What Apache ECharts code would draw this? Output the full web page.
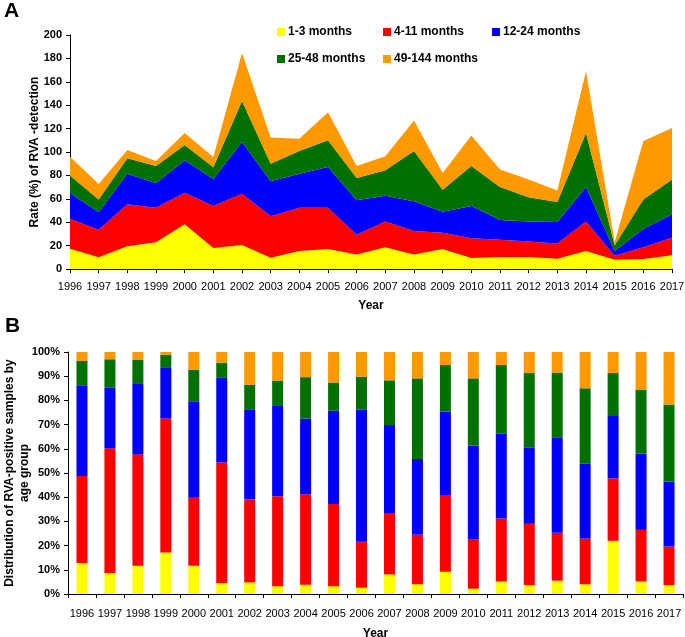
<!DOCTYPE html>
<html>
<head>
<meta charset="utf-8">
<script src="https://cdn.jsdelivr.net/npm/echarts@6/dist/echarts.min.js"></script>
<style>
html,body{margin:0;padding:0;background:#fff;}
#c{width:685px;height:637px;}
</style>
</head>
<body>
<div id="c"></div>
<script>
var years = ['1996','1997','1998','1999','2000','2001','2002','2003','2004','2005','2006','2007','2008','2009','2010','2011','2012','2013','2014','2015','2016','2017'];
var groups = ['1-3 months','4-11 months','12-24 months','25-48 months','49-144 months'];
var colors = ['#FFFF00','#FF0000','#0000FF','#007000','#FF9900'];

// Panel A: rate (%) of RVA detection by age group (stacked)
var rate_1_3    = [17.4,10,19.4,22.8,38.2,18,20.5,9.7,15.4,17,12.5,18.5,12.3,17,9.4,10.3,10.3,8.8,15.4,8,8.5,11.7];
var rate_4_11   = [25.6,23.6,35.9,29.6,27,35.8,43.9,35.3,37,35.4,16.8,22.2,20.2,14,16.8,14.7,13.1,12.9,25.1,3.4,10,15.1];
var rate_12_24  = [22,14.8,26.2,20.8,27.7,23.2,44.1,30,29.1,34.8,29.4,22,25.3,18,27.6,16.9,17.1,18.5,29.5,4,15.7,19.9];
var rate_25_48  = [15,11.1,13.1,14.8,13.1,10,35.1,15,19.4,22.8,19.1,21.6,43.1,18.8,34.2,28.1,20.8,17.1,46.2,4.8,25.3,29.7];
var rate_49_144 = [16,13.1,7.1,4.3,10.2,8.7,41,22.5,10.5,24,10.2,12,26.1,14.2,26,15,15.1,9.9,52.8,2.8,49.9,44.1];

// Panel B: distribution (%) of RVA-positive samples by age group
var dist_1_3    = [12.8,8.7,11.7,17.2,11.7,4.5,4.8,3.2,3.8,3.2,2.6,8.1,4,9.2,2.2,5.2,3.7,5.5,4,22,5.2,3.7];
var dist_4_11   = [36,51.5,46,55.3,28.1,49.8,34.2,37.2,37.4,34,19,25.4,20.5,31.7,20.5,26,25.3,19.8,18.9,25.8,21.3,15.9];
var dist_12_24  = [37.5,25,29.4,21.2,39.9,35,37.1,37.3,31.3,38.6,54.6,36.3,31.3,34.5,38.7,35,31.6,39.5,30.9,26.1,31.5,26.8];
var dist_25_48  = [10,11.8,9.6,5.2,12.9,6.3,10.4,10.5,17.1,11.6,13.6,18.5,33.3,19.2,27.7,28.4,30.7,26.7,31.2,17.4,26.3,31.9];
var dist_49_144 = [3.7,3,3.3,1.1,7.4,4.4,13.5,11.8,10.4,12.6,10.2,11.7,10.9,5.4,10.9,5.4,8.7,8.5,15,8.7,15.7,21.7];

var rateTicks = [0,20,40,60,80,100,120,140,160,180,200];
var distTicks = [0,10,20,30,40,50,60,70,80,90,100];

var rateData = [rate_1_3, rate_4_11, rate_12_24, rate_25_48, rate_49_144];
var distData = [dist_1_3, dist_4_11, dist_12_24, dist_25_48, dist_49_144];

var boldFont = 'Liberation Sans, Arial, sans-serif';
var narrowFont = 'Liberation Sans Narrow, Arial Narrow, Liberation Sans, sans-serif';

var series = [];
groups.forEach(function(g, i){
  series.push({
    name: g, type: 'line', stack: 'rate', xAxisIndex: 0, yAxisIndex: 0,
    data: rateData[i], showSymbol: false, symbol: 'none',
    lineStyle: {width: 0}, areaStyle: {color: colors[i], opacity: 1},
    itemStyle: {color: colors[i]}, emphasis: {disabled: true}, animation: false
  });
});
groups.forEach(function(g, i){
  series.push({
    name: g, type: 'bar', stack: 'dist', xAxisIndex: 1, yAxisIndex: 1,
    data: distData[i], barWidth: 11,
    itemStyle: {color: colors[i]}, emphasis: {disabled: true}, animation: false
  });
});

var legendPos = [[277,26],[383,26],[492,26],[277,53],[383,53]];
var legends = groups.map(function(g, i){
  return {
    data: [g], left: legendPos[i][0], top: legendPos[i][1],
    icon: 'rect', itemWidth: 8, itemHeight: 8, itemGap: 3, padding: 0,
    textStyle: {fontFamily: boldFont, fontWeight: 'bold', fontSize: 12, color: '#000', padding: [0,0,0,-2]},
    selectedMode: false
  };
});

var axisLineStyle = {show: true, lineStyle: {color: '#000', width: 1}};

var option = {
  backgroundColor: '#fff',
  animation: false,
  legend: legends,
  graphic: [
    {type: 'text', left: 4, top: 1, style: {text: 'A', font: 'bold 21px Liberation Sans, Arial, sans-serif', fill: '#000'}},
    {type: 'text', left: 5, top: 316, style: {text: 'B', font: 'bold 21px Liberation Sans, Arial, sans-serif', fill: '#000'}}
  ],
  grid: [
    {left: 70, top: 35, width: 602, height: 234, outerBoundsMode: 'none', containLabel: false},
    {left: 68, top: 352, width: 615, height: 242, outerBoundsMode: 'none', containLabel: false}
  ],
  xAxis: [
    {
      gridIndex: 0, type: 'category', data: years, boundaryGap: false,
      name: 'Year', nameLocation: 'middle', nameGap: 31, nameMoveOverlap: false,
      nameTextStyle: {fontFamily: boldFont, fontWeight: 'bold', fontSize: 12, color: '#000'},
      axisLine: axisLineStyle,
      axisTick: {show: true, length: 4, lineStyle: {color: '#000'}},
      axisLabel: {fontFamily: narrowFont, fontSize: 11, color: '#000', margin: 12, interval: 0}
    },
    {
      gridIndex: 1, type: 'category', data: years, boundaryGap: true,
      name: 'Year', nameLocation: 'middle', nameGap: 34, nameMoveOverlap: false,
      nameTextStyle: {fontFamily: boldFont, fontWeight: 'bold', fontSize: 12, color: '#000'},
      axisLine: axisLineStyle,
      axisTick: {show: true, length: 4, lineStyle: {color: '#000'}},
      axisLabel: {fontFamily: narrowFont, fontSize: 11, color: '#000', margin: 14, interval: 0}
    }
  ],
  yAxis: [
    {
      gridIndex: 0, type: 'value', min: rateTicks[0], max: rateTicks[rateTicks.length-1], interval: rateTicks[1]-rateTicks[0],
      name: 'Rate (%) of RVA -detection', nameLocation: 'middle', nameGap: 29, nameRotate: 90, nameMoveOverlap: false,
      nameTextStyle: {fontFamily: boldFont, fontWeight: 'bold', fontSize: 12, color: '#000'},
      axisLine: axisLineStyle,
      axisTick: {show: true, length: 4, lineStyle: {color: '#000'}},
      splitLine: {show: false},
      axisLabel: {fontFamily: boldFont, fontWeight: 'bold', fontSize: 11, color: '#000', margin: 8}
    },
    {
      gridIndex: 1, type: 'value', min: distTicks[0], max: distTicks[distTicks.length-1], interval: distTicks[1]-distTicks[0],
      name: 'Distribution of RVA-positive samples by\nage group', nameLocation: 'middle', nameGap: 36, nameRotate: 90, nameMoveOverlap: false,
      nameTextStyle: {fontFamily: boldFont, fontWeight: 'bold', fontSize: 12, color: '#000', lineHeight: 15, align: 'center'},
      axisLine: axisLineStyle,
      axisTick: {show: true, length: 4, lineStyle: {color: '#000'}},
      splitLine: {show: false},
      axisLabel: {fontFamily: boldFont, fontWeight: 'bold', fontSize: 11, color: '#000', margin: 8, formatter: '{value}%'}
    }
  ],
  series: series
};

var chart = echarts.init(document.getElementById('c'), null, {renderer: 'canvas'});
chart.setOption(option);
</script>
</body>
</html>
